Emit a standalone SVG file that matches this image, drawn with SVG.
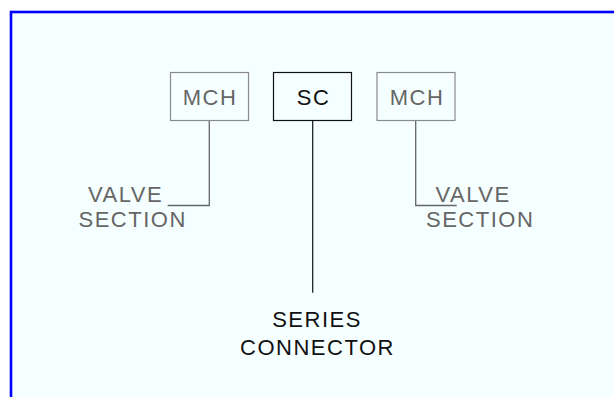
<svg xmlns="http://www.w3.org/2000/svg" width="614" height="397" viewBox="0 0 614 397">
  <style>
    .lbl { font-family: "Liberation Sans", Arial, sans-serif; font-size: 22px; letter-spacing: 1.5px; }
    .grey { fill: #666666; }
    .dark { fill: #111111; }
    .box-grey { fill: #f5ffff; stroke: #8a8a8a; stroke-width: 1.2; }
    .box-dark { fill: #f5ffff; stroke: #111111; stroke-width: 1.2; }
    .wire-grey { fill: none; stroke: #666666; stroke-width: 1.3; }
    .wire-dark { fill: none; stroke: #111111; stroke-width: 1.2; }
  </style>

  <!-- panel -->
  <rect x="0" y="0" width="614" height="397" fill="#ffffff"/>
  <rect x="11" y="12" width="620" height="400" fill="#f5ffff" stroke="#0000ff" stroke-width="2.6"/>

  <!-- connectors -->
  <g id="connectors">
    <polyline class="wire-grey" points="209.3,120.5 209.3,205.5 167.7,205.5"/>
    <line class="wire-dark" x1="312.7" y1="120.5" x2="312.7" y2="292.7"/>
    <polyline class="wire-grey" points="415.7,120.5 415.7,205.5 456.7,205.5"/>
  </g>

  <!-- nodes -->
  <g id="mch-left">
    <rect class="box-grey" x="170.5" y="72.5" width="78" height="48"/>
    <text class="lbl grey" x="210" y="105" text-anchor="middle">MCH</text>
  </g>
  <g id="sc">
    <rect class="box-dark" x="273.5" y="72.5" width="78" height="48"/>
    <text class="lbl dark" x="313.5" y="105" text-anchor="middle">SC</text>
  </g>
  <g id="mch-right">
    <rect class="box-grey" x="377" y="72.5" width="78" height="48"/>
    <text class="lbl grey" x="417" y="105" text-anchor="middle">MCH</text>
  </g>

  <g id="valve-left">
    <text class="lbl grey" x="88" y="201.5">VALVE</text>
    <text class="lbl grey" x="78.5" y="226.8">SECTION</text>
  </g>
  <g id="valve-right">
    <text class="lbl grey" x="435.5" y="201.5">VALVE</text>
    <text class="lbl grey" x="426" y="226.8">SECTION</text>
  </g>
  <g id="series-connector">
    <text class="lbl dark" x="317" y="327" text-anchor="middle">SERIES</text>
    <text class="lbl dark" x="317.5" y="355" text-anchor="middle">CONNECTOR</text>
  </g>
</svg>
